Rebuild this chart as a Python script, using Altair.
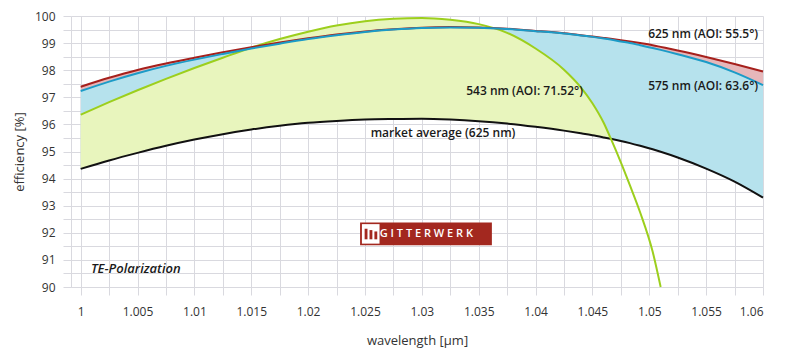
import altair as alt
import pandas as pd

# ---------------- data ----------------
wavelength = [1.0, 1.0025, 1.005, 1.0075, 1.01, 1.0125, 1.015, 1.0175, 1.02, 1.0225,
              1.025, 1.0275, 1.03, 1.0325, 1.035, 1.0375, 1.04, 1.0425, 1.044, 1.045,
              1.046, 1.0466, 1.0475, 1.0483, 1.0492, 1.0503, 1.051, 1.0525, 1.055, 1.0575, 1.06]

eff_625 = [97.39, 97.72, 98.01, 98.25, 98.46, 98.66, 98.85, 99.02, 99.18, 99.32,
           99.43, 99.51, 99.57, 99.59, 99.58, 99.53, 99.45, 99.36, 99.29, 99.24,
           99.19, 99.16, 99.11, 99.06, 99.00, 98.92, 98.86, 98.73, 98.49, 98.23, 97.95]

eff_575 = [97.23, 97.58, 97.89, 98.16, 98.39, 98.60, 98.80, 98.98, 99.15, 99.29,
           99.41, 99.50, 99.56, 99.58, 99.57, 99.52, 99.44, 99.35, 99.28, 99.23,
           99.17, 99.13, 99.06, 99.00, 98.92, 98.82, 98.75, 98.59, 98.30, 97.92, 97.45]

eff_543 = [96.36, 96.82, 97.26, 97.68, 98.08, 98.46, 98.83, 99.15, 99.42, 99.65,
           99.81, 99.90, 99.93, 99.86, 99.70, 99.38, 98.80, 98.02, 97.36, 96.78,
           96.05, 95.49, 94.60, 93.75, 92.75, 91.30, 90.0, None, None, None, None]

eff_market = [94.36, 94.67, 94.95, 95.21, 95.44, 95.64, 95.81, 95.95, 96.06, 96.13,
              96.18, 96.20, 96.21, 96.18, 96.12, 96.03, 95.91, 95.77, 95.67, 95.60,
              95.52, 95.47, 95.39, 95.31, 95.21, 95.08, 94.99, 94.78, 94.37, 93.89, 93.30]

label_texts = ["625 nm (AOI: 55.5°)", "575 nm (AOI: 63.6°)", "543 nm (AOI: 71.52°)",
               "market average (625 nm)"]
label_w = [1.0499, 1.0499, 1.0339, 1.0255]
label_v = [99.34, 97.41, 97.25, 95.69]

x_ticks = [round(1 + i * 0.0025, 4) for i in range(25)]
y_ticks = [90 + i * 0.5 for i in range(21)]

df = pd.DataFrame({"w": wavelength, "red": eff_625, "blue": eff_575,
                   "green": eff_543, "black": eff_market})
labels_df = pd.DataFrame({"w": label_w, "v": label_v, "text": label_texts})
te_df = pd.DataFrame({"w": [1.0009], "v": [90.67], "text": ["TE-Polarization"]})

# logo (GITTERWERK badge), in data units
logo_df = pd.DataFrame({"x1": [1.02457], "x2": [1.03616], "y1": [92.38], "y2": [91.54]})
icon_df = pd.DataFrame({"x1": [1.02473], "x2": [1.02628], "y1": [92.32], "y2": [91.60]})
bar_x1 = [1.02497, 1.02540, 1.02583]
bar_x2 = [1.02522, 1.02565, 1.02608]
bar_top = [92.15, 92.10, 92.05]
bar_bot = [91.76, 91.76, 91.76]
bars_df = pd.DataFrame({"x1": bar_x1, "x2": bar_x2, "y1": bar_top, "y2": bar_bot})
logo_text_df = pd.DataFrame({"w": [1.0304], "v": [91.96], "text": ["G I T T E R W E R K"]})

# ---------------- styles ----------------
RED, PINK = "#a6201c", "#e6b7ba"
BLUE, LBLUE = "#1b9bc7", "#b6e2ed"
GREEN, LGREEN = "#9ccf1d", "#e8f5bd"
BLACK = "#111111"
GRID = "#d9d9df"
FONT = "Open Sans"

x_axis = alt.Axis(values=x_ticks, title="wavelength [µm]",
                  labelExpr="round(datum.value*1000) % 5 == 0 ? format(datum.value, '.3~f') : ''",
                  grid=True, gridColor=GRID, tickColor=GRID, tickSize=8, domainColor=GRID,
                  labelPadding=11, titlePadding=17, labelFontSize=12, titleFontSize=13,
                  labelColor="#333", titleColor="#333", labelFont=FONT, titleFont=FONT,
                  titleFontWeight="normal")
y_axis = alt.Axis(values=y_ticks, title="efficiency [%]",
                  labelExpr="datum.value % 1 == 0 ? format(datum.value, 'd') : ''",
                  grid=True, gridColor=GRID, tickColor=GRID, tickSize=8, domainColor=GRID,
                  labelPadding=8, titlePadding=8, labelFontSize=12, titleFontSize=13,
                  labelColor="#333", titleColor="#333", labelFont=FONT, titleFont=FONT,
                  titleFontWeight="normal")
x_scale = alt.Scale(domain=[0.99915, 1.06], nice=False, zero=False)
y_scale = alt.Scale(domain=[90, 100], nice=False, zero=False)


def X(field):
    return alt.X(field, type="quantitative", scale=x_scale, axis=x_axis)


def Y(field):
    return alt.Y(field, type="quantitative", scale=y_scale, axis=y_axis)


base = alt.Chart(df)
interp = "monotone"

area_red = base.mark_area(color=PINK, interpolate=interp).encode(
    x=X("w"), y=Y("red"), y2="black")
area_blue = base.mark_area(color=LBLUE, interpolate=interp).encode(
    x=X("w"), y=Y("blue"), y2="black")
area_green = base.transform_filter("isValid(datum.green)").transform_calculate(
    gtop="max(datum.green, datum.black)").mark_area(color=LGREEN, interpolate=interp).encode(
    x=X("w"), y=Y("gtop"), y2="black")

line_black = base.mark_line(color=BLACK, strokeWidth=2, interpolate=interp).encode(x=X("w"), y=Y("black"))
line_red = base.mark_line(color=RED, strokeWidth=2, interpolate=interp).encode(x=X("w"), y=Y("red"))
line_blue = base.mark_line(color=BLUE, strokeWidth=2, interpolate=interp).encode(x=X("w"), y=Y("blue"))
line_green = base.transform_filter("isValid(datum.green)").mark_line(
    color=GREEN, strokeWidth=2, interpolate=interp).encode(x=X("w"), y=Y("green"))

texts = alt.Chart(labels_df).mark_text(align="left", baseline="middle", font=FONT,
                                       fontSize=12, fontWeight=600, color="#1a1a1a").encode(
    x=X("w"), y=Y("v"), text="text:N")
te = alt.Chart(te_df).mark_text(align="left", baseline="middle", font=FONT, fontSize=13,
                                fontWeight=600, fontStyle="italic", color="#1a1a1a").encode(
    x=X("w"), y=Y("v"), text="text:N")

logo = alt.Chart(logo_df).mark_rect(color="#a3281f").encode(x=X("x1"), x2="x2", y=Y("y1"), y2="y2")
icon = alt.Chart(icon_df).mark_rect(color="white").encode(x=X("x1"), x2="x2", y=Y("y1"), y2="y2")
bars = alt.Chart(bars_df).mark_rect(color="#a3281f").encode(x=X("x1"), x2="x2", y=Y("y1"), y2="y2")
logo_text = alt.Chart(logo_text_df).mark_text(align="center", baseline="middle", font=FONT,
                                              fontSize=11, fontWeight=600, color="white").encode(
    x=X("w"), y=Y("v"), text="text:N")

chart = alt.layer(
    area_red, area_blue, area_green,
    line_black, line_green, line_red, line_blue,
    texts, te, logo, icon, bars, logo_text,
).properties(
    width=692, height=271, padding={"left": 5, "top": 2, "right": 5, "bottom": 5}
).configure_view(stroke=None)

chart.save("out.html", embed_options={"renderer": "svg", "actions": False})
